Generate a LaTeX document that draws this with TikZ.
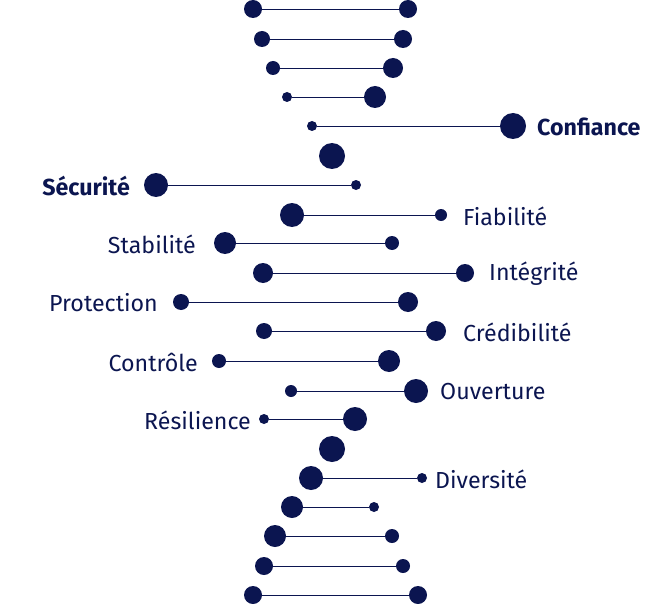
\documentclass[tikz,border=0pt]{standalone}
\usepackage{fontspec}
\setmainfont{Fira Sans}
\definecolor{navy}{HTML}{0B1550}
\begin{document}
\begin{tikzpicture}[x=1pt,y=-1pt,
  dot/.style={circle,fill=navy,inner sep=0pt,minimum size=#1},
  rung/.style={draw=navy,line width=0.8pt},
  lbl/.style={text=navy,font=\fontsize{23.2}{26}\selectfont,inner sep=0pt},
  blbl/.style={lbl,font=\fontsize{23.2}{26}\selectfont\bfseries}]
\useasboundingbox (0,0) rectangle (671,604);
\foreach \i/\y/\xa/\ra/\xb/\rb in {1/9/253/18/408/18,2/39/262/16/403/18,3/68/273/14/393/20,4/97/287/10/375/22,5/126/312/10/513/26,7/185/156/24/356/10,8/215/292/24/441/12,9/243/225/22/392/14,10/273/263/20/465/18,11/302/181/16/408/20,12/331/264/16/436/20,13/361/219/14/389/22,14/391/291/12/416/24,15/419/264/10/355/24,17/478/311/24/422/10,18/507/292/22/374/10,19/536/275/22/392/14,20/566/264/18/403/14,21/595/253/18/418/18}{
  \node[dot=\ra] (l\i) at (\xa,\y) {};
  \node[dot=\rb] (r\i) at (\xb,\y) {};
  \draw[rung] (l\i) -- (r\i);
}
\node[dot=26] (c6) at (332,156) {};
\node[dot=26] (c16) at (332,449) {};
\node[blbl,anchor=west] (t5) at (537,127) {Confiance};
\node[blbl,anchor=east] (t7) at (130,186) {Sécurité};
\node[lbl,anchor=west] (t8) at (463,216) {Fiabilité};
\node[lbl,anchor=east] (t9) at (196,244) {Stabilité};
\node[lbl,anchor=west] (t10) at (489,274) {Intégrité};
\node[lbl,anchor=east] (t11) at (158,303) {Protection};
\node[lbl,anchor=west] (t12) at (463,332) {Crédibilité};
\node[lbl,anchor=east] (t13) at (198,362) {Contrôle};
\node[lbl,anchor=west] (t14) at (440,392) {Ouverture};
\node[lbl,anchor=east] (t15) at (251,420) {Résilience};
\node[lbl,anchor=west] (t17) at (435,479) {Diversité};
\end{tikzpicture}
\end{document}
